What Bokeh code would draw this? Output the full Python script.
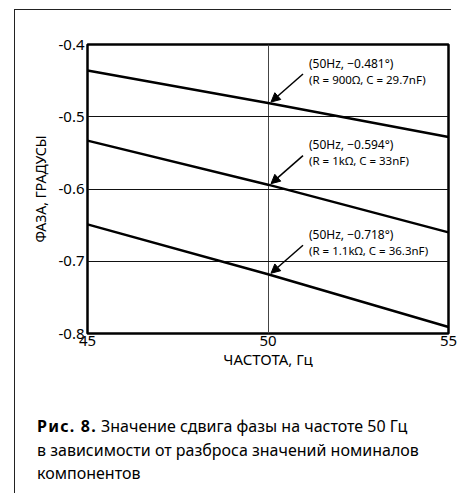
from bokeh.plotting import figure
from bokeh.models import Label, Arrow, NormalHead, FixedTicker, Div
from bokeh.layouts import column, row
from bokeh.embed import file_html
from bokeh.resources import INLINE

# Frequency points (Hz) and phase shift (degrees) for three R/C combinations
freq = [45, 50, 55]
phase_900 = [-0.436, -0.481, -0.528]
phase_1k = [-0.533, -0.594, -0.660]
phase_1k1 = [-0.649, -0.718, -0.791]

notes_top = ["(50Hz, \u22120.481\u00b0)", "(50Hz, \u22120.594\u00b0)", "(50Hz, \u22120.718\u00b0)"]
notes_bottom = ["(R = 900\u03a9, C = 29.7nF)", "(R = 1k\u03a9, C = 33nF)", "(R = 1.1k\u03a9, C = 36.3nF)"]
note_freq = 50
note_phase = [-0.481, -0.594, -0.718]

x_ticks = [45, 50, 55]
y_ticks = [-0.8, -0.7, -0.6, -0.5, -0.4]
y_tick_labels = ["-0.8", "-0.7", "-0.6", "-0.5", "-0.4"]

caption_head = "Рис. 8."
caption_lines = ["Значение сдвига фазы на частоте 50 Гц",
                 "в зависимости от разброса значений номиналов",
                 "компонентов"]

FONT = "Noto Sans"
EDGE = "1.5px solid #222"

p = figure(width=437, height=370, x_range=(45, 55), y_range=(-0.8, -0.4),
           output_backend="svg", toolbar_location=None, margin=0,
           min_border_left=66, min_border_right=10, min_border_top=32, min_border_bottom=49)

p.outline_line_color = "black"
p.outline_line_width = 2.5
p.background_fill_color = "white"
p.border_fill_color = "white"

for ys in (phase_900, phase_1k, phase_1k1):
    p.line(freq, ys, line_color="black", line_width=2.5)

p.xaxis.ticker = FixedTicker(ticks=x_ticks)
p.yaxis.ticker = FixedTicker(ticks=y_ticks)
p.yaxis.major_label_overrides = dict(zip(y_ticks, y_tick_labels))
for ax in (p.xaxis, p.yaxis):
    ax.axis_line_color = None
    ax.major_tick_in = 0
    ax.major_tick_out = 0
    ax.minor_tick_line_color = None
    ax.major_label_text_font = FONT
    ax.major_label_text_font_size = "15px"
    ax.major_label_text_color = "black"
    ax.axis_label_text_font = FONT
    ax.axis_label_text_font_style = "normal"
    ax.axis_label_text_color = "black"
p.xaxis.axis_label_text_font_size = "15px"
p.yaxis.axis_label_text_font_size = "14px"
p.xaxis.major_label_standoff = 2
p.yaxis.major_label_standoff = 3
p.xaxis.axis_label = "ЧАСТОТА, Гц"
p.yaxis.axis_label = "ФАЗА, ГРАДУСЫ"
p.xaxis.axis_label_standoff = 0
p.yaxis.axis_label_standoff = 5

p.xgrid.grid_line_color = "#444444"
p.ygrid.grid_line_color = "#111111"
p.xgrid.grid_line_width = 1
p.ygrid.grid_line_width = 1

# pixels per data unit in the frame
px_x = 361 / 10.0
px_y = 289 / 0.4

for top, bottom, v in zip(notes_top, notes_bottom, note_phase):
    p.add_layout(Label(x=note_freq, y=v, x_offset=41, y_offset=40, text=top,
                       text_font=FONT, text_font_size="12px", text_baseline="middle",
                       text_color="black"))
    p.add_layout(Label(x=note_freq, y=v, x_offset=41, y_offset=24, text=bottom,
                       text_font=FONT, text_font_size="11.5px", text_baseline="middle",
                       text_color="black"))
    p.add_layout(Arrow(x_start=note_freq + 35 / px_x, y_start=v + 29 / px_y,
                       x_end=note_freq + 3 / px_x, y_end=v + 1 / px_y,
                       line_color="black", line_width=1.5,
                       end=NormalHead(size=9, fill_color="black", line_color="black")))

caption_html = (f"<b style='letter-spacing:1.2px'>{caption_head}</b> {caption_lines[0]}<br>"
                f"{caption_lines[1]}<br>{caption_lines[2]}")
caption = Div(text=caption_html, width=437, height=116, margin=0,
              styles={"font-family": FONT, "font-size": "16px", "color": "black",
                      "line-height": "23.5px", "padding-left": "16px",
                      "padding-top": "33px", "white-space": "nowrap",
                      "box-sizing": "border-box"})

# thin rules framing the figure panel on the top and left
top_rule = Div(text="", width=443, height=2, margin=(5, 1, 1, -7),
               styles={"border-top": EDGE, "box-sizing": "border-box"})
left_rule = Div(text="", width=2, height=484,
                styles={"border-left": EDGE, "box-sizing": "border-box"})

layout = row(left_rule, column(top_rule, p, caption, spacing=0, margin=0), spacing=0)
layout.margin = (4, 0, 0, 9)

open("out.html", "w").write(file_html(layout, INLINE))
